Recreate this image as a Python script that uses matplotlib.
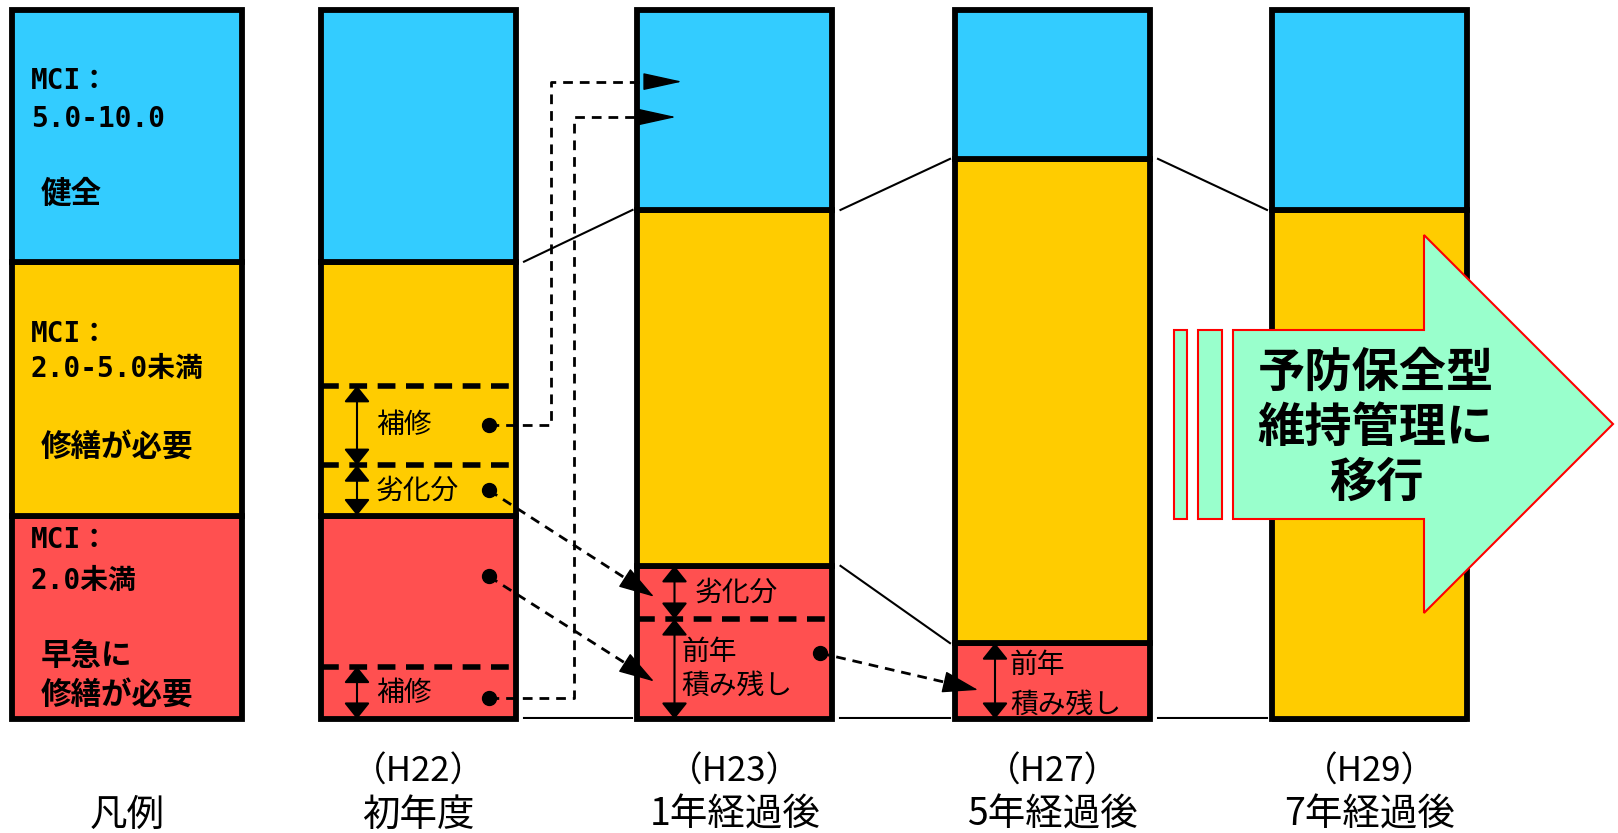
import numpy as np
import matplotlib.pyplot as plt
from matplotlib.patches import Polygon, Rectangle

plt.rcParams['font.family'] = ['Noto Sans CJK JP', 'DejaVu Sans']

# 各段階の区分（棒の高さ全体 = 100）
stages = ["凡例", "初年度", "1年経過後", "5年経過後", "7年経過後"]
years = ["", "（H22）", "（H23）", "（H27）", "（H29）"]
red = [28.7, 28.7, 21.6, 10.7, 0.0]       # MCI 2.0未満
yellow = [35.8, 35.8, 50.2, 68.3, 71.8]   # MCI 2.0-5.0未満
cyan = [35.5, 35.5, 28.2, 21.0, 28.2]     # MCI 5.0-10.0

# 初年度の内訳
h22_repair_red = 7.4       # 早急に修繕が必要 → 補修
h22_decline = 7.1          # 劣化分
h22_repair_yellow = 11.2   # 修繕が必要 → 補修
# 1年経過後の内訳
h23_carry = 14.1           # 前年積み残し

C_RED = "#FF5050"
C_YEL = "#FFCC00"
C_CYAN = "#33CCFF"
C_MINT = "#99FFCC"

W, H = 1618, 833
BASE, TOP = 719, 10

fig = plt.figure(figsize=(W / 100, H / 100), dpi=100)
ax = fig.add_axes([0, (H - BASE) / H, 1, (BASE - TOP) / H])
ax.set_xlim(0, W)
ax.set_ylim(0, 100)
ax.axis('off')

lay = fig.add_axes([0, 0, 1, 1], zorder=5)
lay.set_xlim(0, W)
lay.set_ylim(H, 0)
lay.axis('off')

lefts = [12, 321, 637.5, 955, 1272]
widths = [230, 195, 195, 195, 195]

# 積み上げ棒
bottom = [0.0] * 5
for seg, col in [(red, C_RED), (yellow, C_YEL), (cyan, C_CYAN)]:
    ax.bar(lefts, seg, widths, bottom=bottom, align='edge', color=col,
           edgecolor='k', lw=4.2, zorder=2, clip_on=False)
    bottom = [b + s for b, s in zip(bottom, seg)]

# 棒の間のつなぎ線
tops = [r + y for r, y in zip(red, yellow)]
for i in range(1, 4):
    x0 = lefts[i] + widths[i] + 8
    x1 = lefts[i + 1] - 5
    ax.plot([x0, x1], [tops[i], tops[i + 1]], color='k', lw=1.5, zorder=1)
    ax.plot([x0, x1], [0.2, 0.2], color='k', lw=1.5, zorder=1)
    if i == 2:
        ax.plot([x0, x1], [red[i], red[i + 1]], color='k', lw=1.5, zorder=1)

# 棒内の破線区切り
dash = (0, (3.2, 1.9))
y_dec = red[1] + h22_decline
y_rep = y_dec + h22_repair_yellow
ax.hlines([y_dec, y_rep, h22_repair_red], lefts[1], lefts[1] + widths[1],
          colors='k', linestyles=[dash], lw=4, zorder=3)
ax.hlines(h23_carry, lefts[2], lefts[2] + widths[2],
          colors='k', linestyles=[dash], lw=4, zorder=3)


def span(x, y0, y1):
    ax.annotate('', xy=(x, y1), xytext=(x, y0),
                arrowprops=dict(arrowstyle='<|-|>,head_length=10,head_width=8',
                                mutation_scale=1, lw=1.5, color='k',
                                shrinkA=0, shrinkB=0), zorder=4)


span(lefts[1] + 36, y_dec, y_rep)
span(lefts[1] + 36, red[1], y_dec)
span(lefts[1] + 36, 0, h22_repair_red)
span(lefts[2] + 37, h23_carry, red[2])
span(lefts[2] + 37, 0, h23_carry)
span(lefts[3] + 40, 0, red[3])

# 棒内のラベル
fs_in = 20
ax.text(lefts[1] + 55, (y_dec + y_rep) / 2, "補修", fontsize=fs_in, va='center', zorder=4)
ax.text(lefts[1] + 55, (red[1] + y_dec) / 2, "劣化分", fontsize=fs_in, va='center', zorder=4)
ax.text(lefts[1] + 55, h22_repair_red / 2, "補修", fontsize=fs_in, va='center', zorder=4)
ax.text(lefts[2] + 57, (h23_carry + red[2]) / 2, "劣化分", fontsize=fs_in, va='center', zorder=4)
ax.text(lefts[2] + 44, h23_carry / 2, "前年\n積み残し", fontsize=fs_in, va='center',
        linespacing=1.15, zorder=4)
ax.text(lefts[3] + 55, red[3] / 2 - 0.5, "前年\n積み残し", fontsize=fs_in, va='center',
        linespacing=1.44, zorder=4)


def head_base(tip, frm, length_px):
    # 矢じりの付け根（先端から length_px 戻った点）
    t = ax.transData.transform(tip)
    f = ax.transData.transform(frm)
    d = (t - f) / np.hypot(*(t - f))
    return tuple(ax.transData.inverted().transform(t - d * length_px))


# 補修・劣化・積み残しの流れ（破線矢印）
dot_x = lefts[1] + 168
flows = [
    ([(dot_x, 41.4), (551, 41.4), (551, 89.9)], (682, 89.9), (25, 5.5)),
    ([(dot_x, 3.0), (574, 3.0), (574, 84.9)], (676, 84.9), (25, 5.5)),
    ([(dot_x, 32.25)], (654, 17.25), (23, 7)),
    ([(dot_x, 20.1)], (654, 5.3), (23, 7)),
    ([(820, 9.3)], (978, 4.1), (23, 7)),
]
fdash = (0, (3.5, 2.5))
for pts, tip, (hl, hw) in flows:
    base = head_base(tip, pts[-1], hl * 100 / 72)
    path = pts + [base]
    ax.plot([p[0] for p in path], [p[1] for p in path], color='k', lw=2,
            ls=fdash, zorder=4)
    ax.annotate('', xy=tip, xytext=base,
                arrowprops=dict(arrowstyle=f'-|>,head_length={hl},head_width={hw}',
                                mutation_scale=1, lw=1, color='k',
                                shrinkA=0, shrinkB=0),
                zorder=4)
    ax.plot(pts[0][0], pts[0][1], 'o', ms=10, color='k', zorder=5, clip_on=False)

# 凡例の文字
mono = ['DejaVu Sans Mono', 'Noto Sans CJK JP']
legend_txt = [
    (31, 80.5, "MCI：", mono, 20), (31, 118.7, "5.0-10.0", mono, 20),
    (41, 194, "健全", None, 22),
    (31, 334, "MCI：", mono, 20), (31, 369.4, "2.0-5.0未満", mono, 20),
    (41, 447, "修繕が必要", None, 22),
    (31, 540, "MCI：", mono, 20), (31, 581, "2.0未満", mono, 20),
    (41, 656, "早急に", None, 22), (41, 694.5, "修繕が必要", None, 22),
]
for x, y, s, fam, fs in legend_txt:
    kw = {'family': fam} if fam else {}
    lay.text(x, y, s, fontsize=fs, fontweight='bold', va='center', ha='left', **kw)

# 予防保全型への移行（大矢印）
arrow = Polygon([(1233, 330), (1424, 330), (1424, 235), (1613, 424),
                 (1424, 613), (1424, 519), (1233, 519)],
                closed=True, fc=C_MINT, ec='#FF0000', lw=1.5)
lay.add_patch(arrow)
lay.add_patch(Rectangle((1174, 330), 13.3, 189, fc=C_MINT, ec='#FF0000', lw=1.5))
lay.add_patch(Rectangle((1197.7, 330), 24.6, 189, fc=C_MINT, ec='#FF0000', lw=1.5))
lay.text(1376, 428, "予防保全型\n維持管理に\n移行", fontsize=34, fontweight='bold',
         ha='center', va='center', multialignment='center', linespacing=1.19)

# 下部の段階ラベル
for i in range(5):
    cx = lefts[i] + widths[i] / 2
    if years[i]:
        lay.text(cx, 772, years[i], fontsize=25, ha='center', va='center')
    lay.text(cx, 815, stages[i], fontsize=27, ha='center', va='center')

fig.savefig("out.png", dpi=100)
